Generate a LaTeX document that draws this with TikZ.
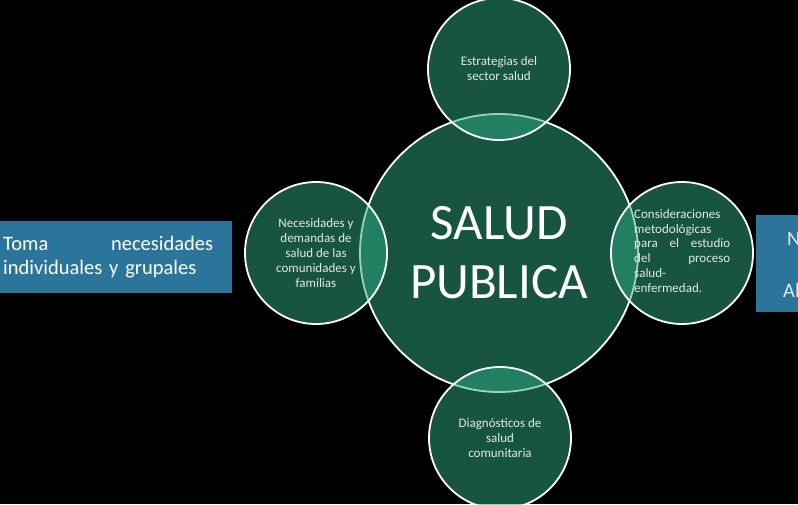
\documentclass[tikz,border=0pt]{standalone}
\usepackage{fontspec}
\setmainfont{Carlito}
\definecolor{venngreen}{RGB}{47,170,130}
\definecolor{boxblue}{RGB}{42,117,153}
\definecolor{softtext}{RGB}{226,234,230}
\tikzstyle{hub}=[circle, draw=white, line width=1.8pt, fill=venngreen, fill opacity=0.5, text opacity=1, minimum size=278pt, inner sep=0pt]
\tikzstyle{petal}=[circle, draw=white, line width=1.8pt, fill=venngreen, fill opacity=0.5, text opacity=1, minimum size=142pt, inner sep=0pt, text=softtext, font=\fontsize{13}{15}\selectfont, align=center]
\tikzstyle{sidebox}=[fill=boxblue, draw=none, inner sep=0pt, anchor=north west]

\begin{document}
\begin{tikzpicture}[x=1pt, y=-1pt]
\fill[black] (0,0) rectangle (798,504);
\useasboundingbox (0,0) rectangle (798,504);

\node[sidebox, minimum width=232pt, minimum height=72pt](leftbox) at (0,221) {};
\node[anchor=north west, text width=210pt, align=left, text=white, inner sep=0pt,
      font=\fontsize{20.5}{24}\selectfont](lefttext) at (3,236) {Toma\hfill necesidades\\individuales y grupales};

\begin{scope}
\clip (0,0) rectangle (798,504);
\node[sidebox, minimum width=60pt, minimum height=97pt](rightbox) at (756,215) {};
\node[anchor=base west, text=softtext, inner sep=0pt, font=\fontsize{20.5}{24}\selectfont](rightn) at (787,245) {N};
\node[anchor=base west, text=softtext, inner sep=0pt, font=\fontsize{20.5}{24}\selectfont](rightal) at (783,297) {Al};
\end{scope}

\node[hub, text=white, align=center, font=\fontsize{51}{59}\selectfont](salud) at (499,253) {SALUD\\PUBLICA};

\node[petal](sector) at (499,69) {Estrategias del\\sector salud};
\node[petal](necesidades) at (316,253) {Necesidades y\\demandas de\\salud de las\\comunidades y\\familias};
\node[petal](diagnostico) at (500,438) {Diagn\'osticos de\\salud\\comunitaria};
\node[petal](metodo) at (682,253) {};
\node[anchor=north west, text width=96pt, align=left, text=softtext, inner sep=0pt,
      font=\fontsize{13}{14.8}\selectfont](metodotext) at (634,209)
      {Consideraciones\\metodol\'ogicas\\para\hfill el\hfill estudio\\del\hfill proceso\\salud-\\enfermedad.};
\end{tikzpicture}
\end{document}
